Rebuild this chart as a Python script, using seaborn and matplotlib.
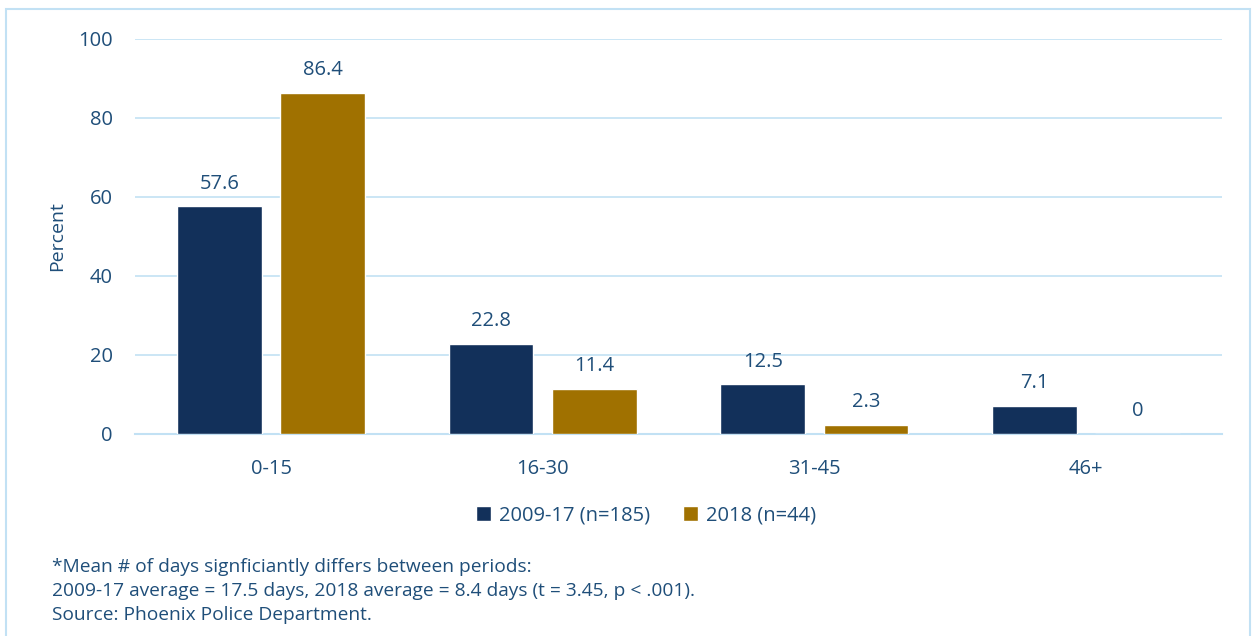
import matplotlib
matplotlib.use("Agg")
import matplotlib.pyplot as plt
import pandas as pd
import seaborn as sns
from matplotlib.patches import Rectangle

categories = ["0-15", "16-30", "31-45", "46+"]
periods = ["2009-17 (n=185)", "2018 (n=44)"]
pct_2009_17 = [57.6, 22.8, 12.5, 7.1]
pct_2018 = [86.4, 11.4, 2.3, 0]
yticks = [0, 20, 40, 60, 80, 100]
footnote = [
    "*Mean # of days signficiantly differs between periods:",
    "2009-17 average = 17.5 days, 2018 average = 8.4 days (t = 3.45, p < .001).",
    "Source: Phoenix Police Department.",
]

NAVY = "#12305a"
GOLD = "#a07100"
TEXT = "#1f4e79"
GRID = "#c2e1f4"

df = pd.DataFrame({
    "days": categories * 2,
    "period": [periods[0]] * 4 + [periods[1]] * 4,
    "pct": pct_2009_17 + pct_2018,
})

sns.set_theme(style="white")
plt.rcParams["font.family"] = ["Open Sans", "DejaVu Sans"]

fig = plt.figure(figsize=(12.52, 6.36), dpi=100)
ax = fig.add_axes([0.108, 0.318, 0.868, 0.621])

sns.barplot(data=df, x="days", y="pct", hue="period", order=categories,
            hue_order=periods, palette=[NAVY, GOLD], width=0.76, gap=0.18,
            saturation=1, ax=ax, legend=True, zorder=3)

for cont, vals in zip(ax.containers, [pct_2009_17, pct_2018]):
    ax.bar_label(cont, labels=[f"{v:g}" for v in vals], padding=9,
                 fontsize=14.5, color=TEXT)

ax.set_xlim(-0.5, 3.5)
ax.set_ylim(0, 100)
ax.set_yticks(yticks)
ax.yaxis.grid(True, color=GRID, linewidth=1.2, zorder=0)
ax.set_axisbelow(True)
for side in ["top", "right", "left"]:
    ax.spines[side].set_visible(False)
ax.spines["bottom"].set_color(GRID)
ax.spines["bottom"].set_linewidth(1.5)
ax.tick_params(axis="both", length=0, labelsize=14.5, labelcolor=TEXT)
ax.tick_params(axis="x", pad=18)
ax.tick_params(axis="y", pad=16)
ax.set_xlabel("")
ax.set_ylabel("Percent", fontsize=14, color=TEXT, labelpad=9)

ax.legend(loc="upper center", bbox_to_anchor=(0.47, -0.135), ncol=2,
          frameon=False, fontsize=14.5, labelcolor=TEXT, handlelength=0.75,
          handleheight=0.75, handletextpad=0.4, columnspacing=1.6)

for i, line in enumerate(footnote):
    fig.text(52 / 1252, 1 - (567 + 24 * i) / 636, line, fontsize=13.8,
             color=TEXT, va="center", ha="left")

fig.patches.append(Rectangle((6 / 1252, -0.1), 1244 / 1252, 1.1 - 9 / 636,
                             transform=fig.transFigure, fill=False,
                             edgecolor=GRID, linewidth=1.5))

fig.savefig("out.png", dpi=100)
